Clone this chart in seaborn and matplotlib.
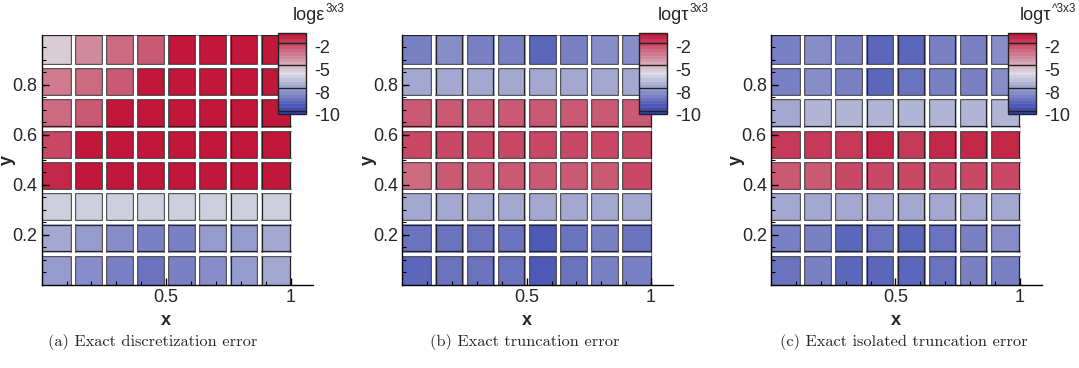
import matplotlib
matplotlib.use("Agg")
import numpy as np
import pandas as pd
import seaborn as sns
import matplotlib.pyplot as plt
from matplotlib.colors import BoundaryNorm
from matplotlib.ticker import FixedLocator, NullLocator
from matplotlib.transforms import ScaledTranslation

sns.set_theme(style="white")
plt.rcParams["font.family"] = ["Liberation Sans", "DejaVu Sans"]
plt.rcParams["axes.unicode_minus"] = False

# ---------------- data (log10 error per 3x3 block, rows from top y=1 to bottom y=0) ----
disc_err = [
    [-5.6, -4.0, -3.2, -2.6, -1.2, -1.2, -1.2, -1.2],
    [-3.6, -3.2, -2.6, -1.2, -1.2, -1.2, -1.2, -1.2],
    [-2.9, -2.8, -1.2, -1.2, -1.2, -1.2, -1.2, -1.2],
    [-2.3, -1.2, -1.2, -1.2, -1.2, -1.2, -1.2, -1.2],
    [-1.5, -1.3, -1.2, -1.2, -1.2, -1.2, -1.2, -1.2],
    [-6.3, -6.5, -6.5, -6.5, -6.5, -6.5, -6.5, -6.5],
    [-8.0, -8.1, -8.4, -8.7, -8.7, -8.1, -8.1, -8.0],
    [-8.1, -8.4, -8.7, -9.0, -8.8, -8.4, -8.1, -8.0],
]
trunc_err = [
    [-8.8, -8.5, -8.6, -8.7, -9.3, -8.7, -8.3, -8.5],
    [-7.9, -7.8, -7.8, -7.9, -8.0, -7.9, -7.8, -7.9],
    [-2.6, -2.6, -2.5, -2.5, -2.5, -2.5, -2.5, -2.5],
    [-2.2, -2.2, -2.2, -2.2, -2.2, -2.2, -2.2, -2.2],
    [-3.0, -2.8, -2.7, -2.6, -2.6, -2.6, -2.5, -2.4],
    [-7.9, -7.7, -7.7, -7.6, -7.7, -7.6, -7.6, -7.7],
    [-9.1, -8.9, -9.0, -8.9, -9.5, -8.9, -8.8, -8.9],
    [-9.2, -9.0, -9.0, -8.9, -9.6, -9.0, -8.8, -8.8],
]
iso_trunc_err = [
    [-8.6, -8.4, -8.8, -9.2, -9.2, -8.8, -8.6, -8.4],
    [-8.7, -8.5, -8.8, -9.2, -9.1, -8.8, -8.6, -8.5],
    [-7.6, -7.5, -7.5, -7.5, -7.5, -7.4, -7.4, -7.4],
    [-1.8, -1.7, -1.7, -1.6, -1.7, -1.6, -1.6, -1.6],
    [-2.7, -2.6, -2.4, -2.3, -2.3, -2.4, -2.3, -2.2],
    [-8.0, -7.9, -7.7, -7.7, -7.7, -7.6, -7.6, -7.8],
    [-8.8, -8.7, -9.2, -9.1, -9.2, -8.9, -8.6, -8.5],
    [-8.9, -8.8, -9.3, -9.2, -9.2, -8.9, -8.6, -8.6],
]
panel_data = [disc_err, trunc_err, iso_trunc_err]
legend_main = ["logε", "logτ", "logτ"]
legend_sup = ["3x3", "3x3", "^3x3"]
captions = ["(a) Exact discretization error", "(b) Exact truncation error",
            "(c) Exact isolated truncation error"]
cbar_ticks = [-2, -5, -8, -10]
cbar_ticklabels = ["-2", "-5", "-8", "-10"]
x_major = [0.5, 1.0]
x_major_labels = ["0.5", "1"]
y_major = [0.2, 0.4, 0.6, 0.8]
y_major_labels = ["0.2", "0.4", "0.6", "0.8"]

# colour levels (Tecplot-like legend with labelled lines at -2,-5,-8,-10)
bounds = np.concatenate([
    [-10.3],
    np.linspace(-10, -8, 8),
    np.linspace(-8, -5, 8)[1:],
    np.linspace(-5, -2, 8)[1:],
    np.linspace(-2, -1, 4)[1:],
])
cmap = sns.blend_palette(["#3340ae", "#dcdce3", "#c1173b"], as_cmap=True)
norm = BoundaryNorm(bounds, ncolors=cmap.N)

# ---------------- layout (pixels) ----------------
W, H = 1079, 368
fig = plt.figure(figsize=(W / 100, H / 100), dpi=100)
ax_lefts = [41.7, 402.3, 771.0]
cbar_lefts = [278.0, 639.0, 1008.0]
title_lefts = [293.0, 657.7, 1020.0]
cap_centers = [153.0, 525.0, 904.0]
ax_w_cells = 8.72
cell_px = 31.1
ax_w = ax_w_cells * cell_px
ax_bottom, ax_top = 285.0, 34.6
cb_top, cb_bottom, cb_w = 33.0, 114.0, 28.0

nrow, ncol = 8, 8
gap_pt = 2.5
edge_off = 2.25 / cell_px

for k in range(3):
    ax = fig.add_axes([ax_lefts[k] / W, 1 - ax_bottom / H, ax_w / W, (ax_bottom - ax_top) / H])
    cax = fig.add_axes([cbar_lefts[k] / W, 1 - cb_bottom / H, cb_w / W, (cb_bottom - cb_top) / H])
    df = pd.DataFrame(panel_data[k])
    sns.heatmap(df, ax=ax, cmap=cmap, norm=norm, cbar=True, cbar_ax=cax,
                cbar_kws={"ticks": cbar_ticks, "spacing": "uniform"},
                xticklabels=False, yticklabels=False, linewidths=0)
    ax.set_xlim(0, ax_w_cells)
    ax.set_ylim(nrow, 0)

    # block borders: thin dark outlines, white gaps between blocks
    inner_c = np.arange(1, ncol)
    inner_r = np.arange(1, nrow)
    bl_x = np.concatenate([inner_c - edge_off, inner_c + edge_off, [ncol - 0.5 / cell_px]])
    bl_y = np.concatenate([inner_r - edge_off, inner_r + edge_off, [0.5 / cell_px]])
    ax.vlines(bl_x, 0, nrow, colors="#222222", linewidth=0.9, zorder=1.2)
    ax.hlines(bl_y, 0, ncol, colors="#222222", linewidth=0.9, zorder=1.2)
    ax.vlines(inner_c, 0, nrow, colors="white", linewidth=gap_pt, zorder=1.3)
    ax.hlines(inner_r, 0, ncol, colors="white", linewidth=gap_pt, zorder=1.3)

    # axes: left and bottom spines only, inward ticks
    for s in ["left", "bottom"]:
        ax.spines[s].set_visible(True)
        ax.spines[s].set_color("black")
        ax.spines[s].set_linewidth(1.0)
    ax.set_axisbelow(False)
    ax.xaxis.set_major_locator(FixedLocator([v * ncol for v in x_major]))
    ax.set_xticklabels(x_major_labels)
    ax.xaxis.set_minor_locator(FixedLocator([v * ncol for v in np.arange(0.1, 1.05, 0.1)]))
    ax.yaxis.set_major_locator(FixedLocator([(1 - v) * nrow for v in y_major]))
    ax.set_yticklabels(y_major_labels)
    ax.yaxis.set_minor_locator(FixedLocator([(1 - v) * nrow for v in np.arange(0.05, 1.0, 0.05)]))
    ax.tick_params(which="both", direction="in", color="black", bottom=True, left=True,
                   top=False, right=False)
    ax.tick_params(which="major", length=5, width=1, labelsize=13, pad=3)
    ax.tick_params(which="minor", length=3, width=0.8)
    ax.set_xlabel("x", fontsize=13, fontweight="bold")
    ax.set_ylabel("y", fontsize=13, fontweight="bold")
    ax.xaxis.set_label_coords(0.459, -0.108)
    ax.yaxis.set_label_coords(-0.095, 0.5)

    # colour legend
    cb = ax.collections[0].colorbar
    cb.outline.set_visible(True)
    cb.outline.set_linewidth(1.0)
    cb.outline.set_edgecolor("#222222")
    cb.ax.yaxis.set_minor_locator(NullLocator())
    cb.ax.set_yticks(cbar_ticks)
    cb.ax.set_yticklabels(cbar_ticklabels)
    cb.ax.tick_params(which="both", length=0, labelsize=13, pad=6)
    for lab in cb.ax.get_yticklabels():
        lab.set_transform(lab.get_transform() + ScaledTranslation(0, -4 / 100, fig.dpi_scale_trans))
    for lev in cbar_ticks:
        cb.ax.axhline(lev, color="#222222", linewidth=1.0)

    # legend title with superscript
    t = fig.text(title_lefts[k] / W, 1 - 15 / H, legend_main[k], fontsize=13,
                 ha="left", va="center")
    ax.annotate(legend_sup[k], xy=(1, 1), xycoords=t, xytext=(0.3, 2.5),
                textcoords="offset points", ha="left", va="top", fontsize=8.5,
                annotation_clip=False)

    fig.text(cap_centers[k] / W, 1 - 342 / H, captions[k], fontsize=11.8,
             family="cmr10", ha="center", va="center")

fig.savefig("out.png", dpi=100)
